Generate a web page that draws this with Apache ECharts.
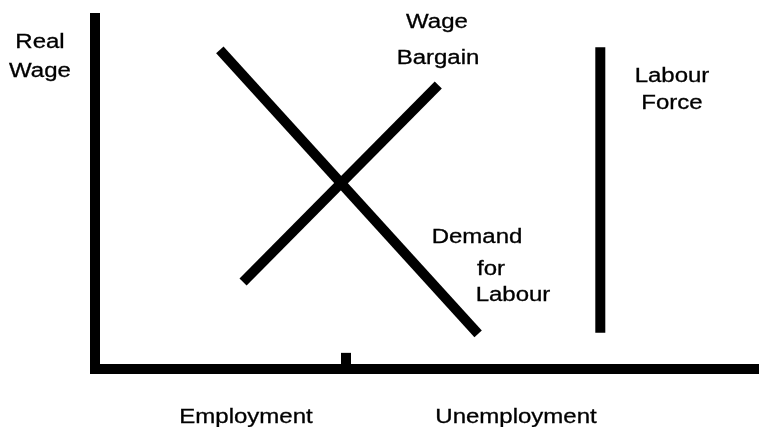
<!DOCTYPE html>
<html>
<head>
<meta charset="utf-8">
<script src="https://cdn.jsdelivr.net/npm/echarts@6/dist/echarts.min.js"></script>
<style>
html,body{margin:0;padding:0;background:#fff;}
#chart{width:759px;height:427px;}
</style>
</head>
<body>
<div id="chart"></div>
<script>
// Schematic values (arbitrary units, 0-100 on both axes)
const demandX = [18.8, 57.7];
const demandY = [90.9, 10.0];
const wageX = [22.3, 51.7];
const wageY = [24.8, 80.9];
const labourX = [76.1, 76.1];
const labourY = [91.7, 10.3];
const tickX = [37.8, 37.8];
const tickY = [0, 4.6];

// Text labels
const yAxisLabel = ['Real', 'Wage'];
const wageLabel = ['Wage', 'Bargain'];
const labourLabel = ['Labour', 'Force'];
const demandLabel = ['Demand', 'for', 'Labour'];
const xLabels = ['Employment', 'Unemployment'];

function pairs(xs, ys) { return xs.map((x, i) => [x, ys[i]]); }

const lineStyle = { color: '#000', width: 10, cap: 'butt' };
function seg(name, xs, ys, width) {
  return {
    name: name, type: 'line', data: pairs(xs, ys), symbol: 'none',
    lineStyle: Object.assign({}, lineStyle, { width: width || 10 }),
    silent: true
  };
}

const FONT = '20px "Liberation Sans", Arial, sans-serif';
function txt(text, x, y) {
  return {
    type: 'text', x: x, y: y, scaleX: 1.2,
    style: { text: text, font: FONT, fill: '#000', stroke: '#000', lineWidth: 0.3,
             textAlign: 'center', textVerticalAlign: 'middle' }
  };
}

const chart = echarts.init(document.getElementById('chart'));
chart.setOption({
  animation: false,
  backgroundColor: '#fff',
  grid: { left: 95, right: 0, top: 18, bottom: 58 },
  xAxis: {
    type: 'value', min: 0, max: 100,
    axisLine: { show: true, onZero: false, lineStyle: { color: '#000', width: 10, cap: 'square' } },
    axisTick: { show: false }, axisLabel: { show: false }, splitLine: { show: false }
  },
  yAxis: {
    type: 'value', min: 0, max: 100,
    axisLine: { show: true, onZero: false, lineStyle: { color: '#000', width: 10, cap: 'square' } },
    axisTick: { show: false }, axisLabel: { show: false }, splitLine: { show: false }
  },
  series: [
    seg('Demand for Labour', demandX, demandY),
    seg('Wage Bargain', wageX, wageY),
    seg('Labour Force', labourX, labourY),
    seg('Tick', tickX, tickY)
  ],
  graphic: [
    txt(yAxisLabel[0], 40, 42),
    txt(yAxisLabel[1], 40, 71),
    txt(wageLabel[0], 437, 22),
    txt(wageLabel[1], 438, 58),
    txt(labourLabel[0], 672, 76),
    txt(labourLabel[1], 672, 103),
    txt(demandLabel[0], 477, 237),
    txt(demandLabel[1], 491, 269),
    txt(demandLabel[2], 513, 295),
    txt(xLabels[0], 246, 417),
    txt(xLabels[1], 516, 417)
  ]
});
</script>
</body>
</html>
